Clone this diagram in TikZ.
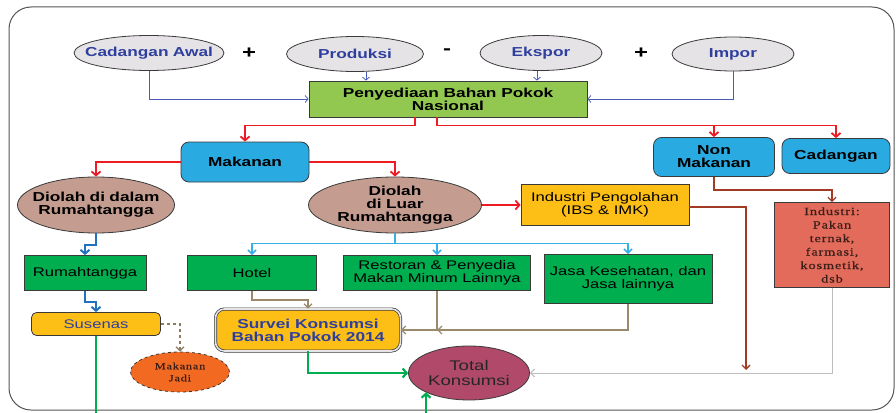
\documentclass[tikz,border=0pt]{standalone}
\usepackage{fontspec}
\setmainfont[FakeStretch=1.33]{Liberation Sans}
\newfontfamily\serifbox[FakeStretch=1.3,LetterSpace=8,FakeBold=0.5]{Liberation Serif}
\usetikzlibrary{arrows.meta}
\usetikzlibrary{shapes.geometric}

\definecolor{framec}{HTML}{555555}
\definecolor{linec}{HTML}{3A3A3A}
\definecolor{ovalc}{HTML}{E6E3E6}
\definecolor{bluetxt}{HTML}{2F3F9E}
\definecolor{bluelinec}{HTML}{4A5CB8}
\definecolor{limec}{HTML}{92C850}
\definecolor{skyc}{HTML}{29ABE2}
\definecolor{rosyc}{HTML}{C49C90}
\definecolor{yellowc}{HTML}{FDBE16}
\definecolor{greenc}{HTML}{00AE4F}
\definecolor{salmonc}{HTML}{E26B5B}
\definecolor{maroonc}{HTML}{B0496A}
\definecolor{orangec}{HTML}{F26A22}
\definecolor{redc}{HTML}{ED1C24}
\definecolor{brownc}{HTML}{A23B26}
\definecolor{tanc}{HTML}{9A8A6B}
\definecolor{skylinec}{HTML}{38B0E6}
\definecolor{dbluec}{HTML}{2271BF}
\definecolor{greyc}{HTML}{BDBDBD}
\definecolor{dashc}{HTML}{8C7B60}
\definecolor{serifc}{HTML}{3B1E18}

% one line of text centred on its own middle
\newcommand{\ctrline}[1]{\makebox[0pt]{#1}}

\begin{document}
\begin{tikzpicture}[x=1pt,y=-1pt,
    % ellipses keep their own size, the text sits on them as a centre label
    oval/.style={ellipse,draw=linec,line width=0.8pt,fill=ovalc,inner sep=0pt,
      label={[ovaltext,text=bluetxt]center:#1}},
    brownoval/.style={ellipse,draw=linec,line width=0.8pt,fill=rosyc,inner sep=0pt,
      label={[ovaltext]center:#1}},
    ovaltext/.style={align=center,text width=160pt,inner sep=0pt,
      font=\bfseries\fontsize{13}{13}\selectfont},
    sign/.style={font=\bfseries\fontsize{18}{18}\selectfont},
    limebox/.style={draw=linec,line width=0.8pt,fill=limec,inner sep=0pt,align=center,
      font=\bfseries\fontsize{13}{13}\selectfont},
    skybox/.style={draw=linec,line width=0.8pt,fill=skyc,rounded corners=8,inner sep=0pt,
      align=center,font=\bfseries\fontsize{13}{13}\selectfont},
    greenbox/.style={draw=linec,line width=0.8pt,fill=greenc,inner sep=0pt,align=center,
      font=\fontsize{12.5}{13}\selectfont},
    yellowbox/.style={draw=linec,line width=0.8pt,fill=yellowc,inner sep=0pt,align=center,
      font=\fontsize{12.5}{13}\selectfont},
    bluelink/.style={draw=bluelinec,line width=0.8pt,-{Straight Barb[length=3pt,width=7pt]}},
    redlink/.style={draw=redc,line width=1.8pt,-{Straight Barb[length=4pt,width=9pt]}},
    brownlink/.style={draw=brownc,line width=1.3pt,-{Straight Barb[length=4pt,width=8pt]}},
    skylink/.style={draw=skylinec,line width=1.6pt,-{Straight Barb[length=4pt,width=8pt]}},
    dbluelink/.style={draw=dbluec,line width=2pt,-{Straight Barb[length=4pt,width=9pt]}},
    tanlink/.style={draw=tanc,line width=1.3pt,-{Straight Barb[length=4pt,width=8pt]}},
    greylink/.style={draw=greyc,line width=1pt,-{Straight Barb[length=4pt,width=8pt]}},
    greenlink/.style={draw=greenc,line width=2.2pt,-{Straight Barb[length=4pt,width=9pt]}},
    dashlink/.style={draw=dashc,line width=1.2pt,dashed,-{Straight Barb[length=4pt,width=8pt]}}]

    \useasboundingbox (0,0) rectangle (896,412);
    % frame round the whole chart
    \draw[framec,line width=1pt,rounded corners=22] (9,7) rectangle (894,410);

    % supply balance
    \node[oval={Cadangan Awal},minimum width=150,minimum height=35] (cadawal) at (149,53) {};
    \node[sign] (plusa) at (249,53) {+};
    \node[oval={Produksi},minimum width=137,minimum height=35] (produksi) at (355,54) {};
    \node[sign] (minus) at (447,52) {-};
    \node[oval={Ekspor},minimum width=122,minimum height=35] (ekspor) at (541,53) {};
    \node[sign] (plusb) at (641,53) {+};
    \node[oval={Impor},minimum width=122,minimum height=34] (impor) at (733,54) {};

    \node[limebox,minimum width=278,minimum height=36] (penyediaan) at (448,99)
        {Penyediaan Bahan Pokok\\Nasional};

    % use of the supply
    \node[skybox,minimum width=128,minimum height=40] (makanan) at (245,162) {Makanan};
    \node[skybox,minimum width=121,minimum height=39] (nonmakanan) at (714,157) {Non\\Makanan};
    \node[skybox,minimum width=108,minimum height=35] (cadangan) at (836,156) {Cadangan};

    \node[brownoval={\ctrline{Diolah di dalam}\\\ctrline{Rumahtangga}},
        minimum width=157,minimum height=56] (dalam) at (96,205) {};
    \node[brownoval={\ctrline{Diolah}\\\ctrline{di Luar}\\\ctrline{Rumahtangga}},
        minimum width=173,minimum height=56] (luar) at (395,205) {};
    \node[yellowbox,minimum width=168,minimum height=41] (indpeng) at (605,205)
        {Industri Pengolahan\\(IBS \& IMK)};
    \node[draw=linec,line width=0.8pt,fill=salmonc,inner sep=0pt,align=center,
        minimum width=115,minimum height=85,text=serifc,
        font=\serifbox\fontsize{11}{13.5}\selectfont] (industri) at (832,245)
        {Industri:\\Pakan\\ternak,\\farmasi,\\kosmetik,\\dsb};

    \node[greenbox,minimum width=122,minimum height=35] (rumah) at (85,273) {Rumahtangga};
    \node[greenbox,minimum width=129,minimum height=35] (hotel) at (252,273) {Hotel};
    \node[greenbox,minimum width=187,minimum height=35] (restoran) at (437,273)
        {Restoran \& Penyedia\\Makan Minum Lainnya};
    \node[greenbox,minimum width=168,minimum height=49] (jasa) at (628,279)
        {Jasa Kesehatan, dan\\Jasa lainnya};

    % surveys and total
    \node[yellowbox,rounded corners=5,minimum width=129,minimum height=23,text=bluetxt] (susenas)
        at (96,324) {Susenas};
    \node[ellipse,draw=linec,dashed,line width=0.8pt,fill=orangec,inner sep=0pt,
        minimum width=99,minimum height=40,
        label={[align=center,text width=90pt,inner sep=0pt,text=serifc,
          font=\serifbox\fontsize{9.5}{12}\selectfont]center:Makanan\\Jadi}]
        (makjadi) at (180,372) {};
    \node[yellowbox,rounded corners=9,double=ovalc,double distance=1.6pt,line width=0.7pt,
        minimum width=185,minimum height=42,text=bluetxt,
        font=\bfseries\fontsize{13}{13}\selectfont] (survei) at (308,330)
        {Survei Konsumsi\\Bahan Pokok 2014};
    \node[ellipse,draw=linec,line width=0.8pt,fill=maroonc,inner sep=0pt,
        minimum width=121,minimum height=54,
        label={[align=center,text width=110pt,inner sep=0pt,text=black!85,
          font=\fontsize{14}{15}\selectfont]center:Total\\Konsumsi}]
        (total) at (469,373) {};

    \coordinate (indend) at (746,370);
    \coordinate (bota) at (96,414);
    \coordinate (botb) at (426,414);

    % connectors
    \draw[bluelink] (cadawal.south) |- (penyediaan.west);
    \draw[bluelink] ([xshift=11]produksi.south) -- ([xshift=11]produksi.south |- penyediaan.north);
    \draw[bluelink] ([xshift=-4]ekspor.south) -- ([xshift=-4]ekspor.south |- penyediaan.north);
    \draw[bluelink] (impor.south) |- (penyediaan.east);

    \draw[redlink] ([xshift=-33]penyediaan.south) -- ++(0,8) -| (makanan.north);
    \draw[redlink] ([xshift=-11]penyediaan.south) -- ++(0,8) -| (nonmakanan.north);
    \draw[redlink] ([xshift=-11]penyediaan.south) -- ++(0,8) -| (cadangan.north);
    \draw[redlink] (makanan.west) -| (dalam.north);
    \draw[redlink] (makanan.east) -| (luar.north);
    \draw[redlink] (luar.east) -- (indpeng.west);

    \draw[brownlink] ([yshift=-2]indpeng.east) -| (indend);
    \draw[brownlink] (nonmakanan.south) -- ++(0,13) -| (industri.north);
    \draw[greylink] (industri.south) |- (total.east);

    \draw[skylink] (luar.south) -- ++(0,10) -| (hotel.north);
    \draw[skylink] (luar.south) -- ++(0,10) -| (restoran.north);
    \draw[skylink] (luar.south) -- ++(0,10) -| (jasa.north);

    \draw[dbluelink] (dalam.south) -- ++(0,12) -| (rumah.north);
    \draw[dbluelink] (rumah.south) -- ++(0,11) -| (susenas.north);
    \draw[dashlink] (susenas.east) -| (makjadi.north);
    \draw[draw=greenc,line width=2.2pt] (susenas.south) -- (bota);

    \draw[tanlink] (hotel.south) -- ++(0,9) -| (survei.north);
    \draw[tanlink] (restoran.south) |- (survei.east);
    \draw[tanlink] (jasa.south) |- (restoran.south |- survei.east);

    \draw[greenlink] (survei.south) |- (total.west);
    \draw[greenlink] (botb) -- (botb |- total.204);
\end{tikzpicture}
\end{document}
